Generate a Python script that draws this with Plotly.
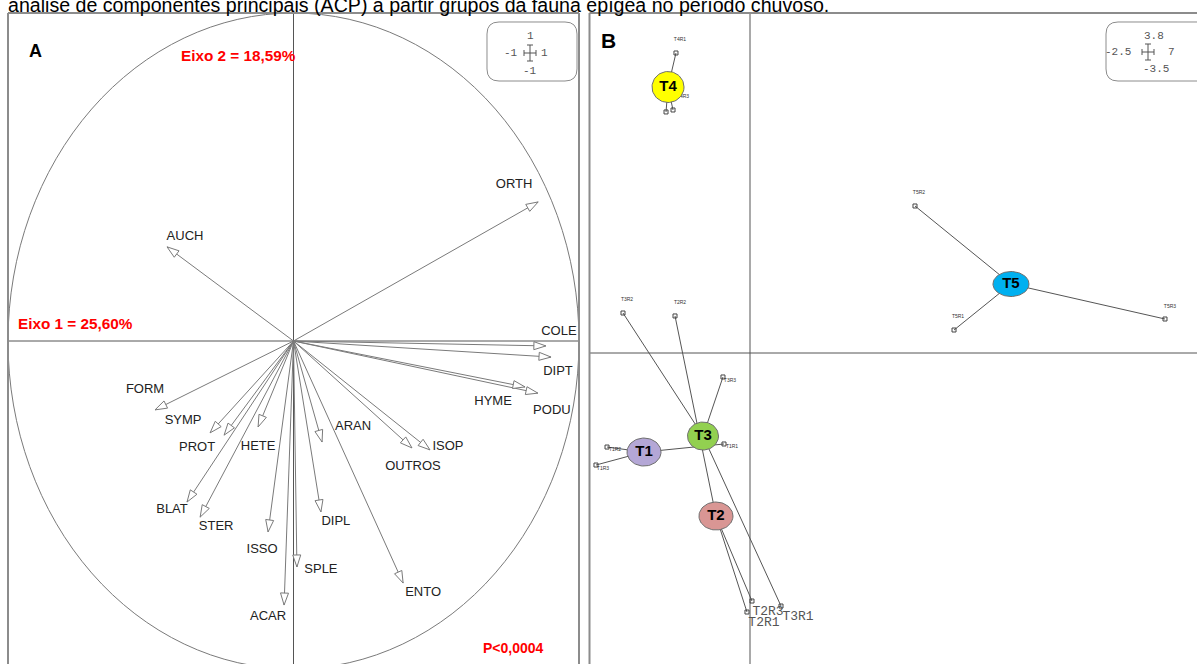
import numpy as np
import plotly.graph_objects as go

# ---------------- data ----------------
# Panel A: loadings of the epigeic fauna groups on axes 1 and 2
groups = ["ORTH", "AUCH", "COLE", "DIPT", "HYME", "PODU", "ISOP", "OUTROS", "ARAN", "DIPL",
          "ENTO", "SPLE", "ACAR", "ISSO", "HETE", "FORM", "SYMP", "PROT", "BLAT", "STER"]
load_ax1 = [0.857, -0.443, 0.884, 0.902, 0.811, 0.856, 0.478, 0.415, 0.100, 0.096,
            0.384, 0.012, -0.033, -0.089, -0.124, -0.485, -0.292, -0.243, -0.373, -0.327]
load_ax2 = [0.424, 0.287, -0.015, -0.049, -0.140, -0.159, -0.332, -0.326, -0.308, -0.521,
            -0.738, -0.689, -0.805, -0.582, -0.262, -0.210, -0.280, -0.287, -0.491, -0.537]

# Panel B: replicate scores and treatment centroids
replicates = ["T1R1", "T1R2", "T1R3", "T2R1", "T2R2", "T2R3", "T3R1", "T3R2", "T3R3",
              "T4R1", "T4R2", "T4R3", "T5R1", "T5R2", "T5R3"]
rep_ax1 = [-0.405, -2.227, -2.399, -0.047, -1.168, 0.031, 0.483, -1.978, -0.421,
           -1.153, -1.308, -1.199, 3.178, 2.570, 6.464]
rep_ax2 = [-1.017, -1.051, -1.252, -2.895, 0.414, -2.772, -2.828, 0.447, -0.268,
           3.353, 2.694, 2.716, 0.257, 1.643, 0.380]
treatments = ["T1", "T2", "T3", "T4", "T5"]
cent_ax1 = [-1.651, -0.530, -0.732, -1.277, 4.065]
cent_ax2 = [-1.107, -1.822, -0.928, 2.973, 0.771]

# axis-limit legends drawn in the corner boxes
limits_A = ["1", "-1", "1", "-1"]          # top, left, right, bottom
limits_B = ["3.8", "-2.5", "7", "-3.5"]

caption = "análise de componentes principais (ACP) a partir grupos da fauna epígea no período chuvoso."
eixo1_txt = "Eixo 1 = 25,60%"
eixo2_txt = "Eixo 2 = 18,59%"
pval_txt = "P<0,0004"

# ---------------- styling / layout ----------------
W, H = 1197, 664
FONT = "Arial, Liberation Sans, sans-serif"
MONO = "Liberation Mono, Courier New, monospace"

# panel frames in pixels
A_left, A_right, A_top = 8, 579, 13
B_left, B_top = 589.5, 13
A_xr = [-1, 1]
A_yr = [-(H - 341) / (341 - A_top), 1]
B_x0px, B_y0px = 750, 353
B_sx = (B_x0px - B_left) / 2.5
B_sy = (B_y0px - B_top) / 3.8
B_xr = [-2.5, (W - B_x0px) / B_sx]
B_yr = [-(H - B_y0px) / B_sy, 3.8]

A_sx = (A_right - A_left) / (A_xr[1] - A_xr[0])
A_sy = (H - A_top) / (A_yr[1] - A_yr[0])

treat_colors = {"T1": "#B4A7D6", "T2": "#D99694", "T3": "#92D050", "T4": "#FFFF00", "T5": "#00B0F0"}
treat_size = {"T1": (34, 28), "T2": (34, 28), "T3": (31, 28), "T4": (32, 31), "T5": (36, 25)}

# label offsets in pixels (dx right, dy down) from the arrow tip
arrow_label_off = {
    "ORTH": (-24, -17), "AUCH": (18, -10), "COLE": (13, -14), "DIPT": (7, 15),
    "HYME": (-32, 15), "PODU": (14, 18), "ISOP": (18, -3), "OUTROS": (1, 19),
    "ARAN": (31, -15), "DIPL": (15, 10), "ENTO": (20, 10), "SPLE": (24, 3),
    "ACAR": (-16, 12), "ISSO": (-6, 18), "HETE": (0, 20), "FORM": (-10, -20),
    "SYMP": (-27, -12), "PROT": (-27, 13), "BLAT": (-15, 8), "STER": (16, 10),
}
# replicate label offsets in pixels from the point
rep_label_off = {
    "T1R1": (8, 3), "T1R2": (8, 3), "T1R3": (7, 4), "T2R1": (17, 11), "T2R2": (5, -13),
    "T2R3": (16, 11), "T3R1": (17, 11), "T3R2": (4, -13), "T3R3": (7, 4),
    "T4R1": (4, -13), "T4R2": (4, -13), "T4R3": (10, -13),
    "T5R1": (4, -13), "T5R2": (4, -13), "T5R3": (5, -12),
}
big_rep_labels = {"T2R1", "T2R3", "T3R1"}


def px(x):
    return x / W


def py(y):
    return 1 - y / H


fig = go.Figure()

# ---------------- panel A ----------------
lx, ly = [], []
for a1, a2 in zip(load_ax1, load_ax2):
    lx += [0, a1, None]
    ly += [0, a2, None]
fig.add_trace(go.Scatter(x=lx, y=ly, mode="lines", line=dict(color="#7a7a7a", width=1),
                         xaxis="x", yaxis="y", hoverinfo="skip"))

# open triangular arrowheads, built in pixel space
hx, hy = [], []
L, HW = 12, 4
for a1, a2 in zip(load_ax1, load_ax2):
    tx, ty = a1 * A_sx, a2 * A_sy
    n = np.hypot(tx, ty)
    ux, uy = tx / n, ty / n
    bx, by = tx - L * ux, ty - L * uy
    pts = [(tx, ty), (bx - HW * uy, by + HW * ux), (bx + HW * uy, by - HW * ux), (tx, ty)]
    for p in pts:
        hx.append(p[0] / A_sx)
        hy.append(p[1] / A_sy)
    hx.append(None)
    hy.append(None)
fig.add_trace(go.Scatter(x=hx, y=hy, mode="lines", fill="toself", fillcolor="white",
                         line=dict(color="#7a7a7a", width=1), xaxis="x", yaxis="y",
                         hoverinfo="skip"))

tx_lab = [a1 + arrow_label_off[g][0] / A_sx for g, a1 in zip(groups, load_ax1)]
ty_lab = [a2 - arrow_label_off[g][1] / A_sy for g, a2 in zip(groups, load_ax2)]
fig.add_trace(go.Scatter(x=tx_lab, y=ty_lab, mode="text", text=groups,
                         textfont=dict(family=FONT, size=13, color="#222222"),
                         textposition="middle center", xaxis="x", yaxis="y", hoverinfo="skip"))

# ---------------- panel B ----------------
cent = {t: (cx, cy) for t, cx, cy in zip(treatments, cent_ax1, cent_ax2)}
sx_, sy_ = [], []
for r, x, y in zip(replicates, rep_ax1, rep_ax2):
    cx, cy = cent[r[:2]]
    sx_ += [cx, x, None]
    sy_ += [cy, y, None]
fig.add_trace(go.Scatter(x=sx_, y=sy_, mode="lines", line=dict(color="#555555", width=1),
                         xaxis="x2", yaxis="y2", hoverinfo="skip"))
fig.add_trace(go.Scatter(x=rep_ax1, y=rep_ax2, mode="markers",
                         marker=dict(symbol="square-open", size=4, color="#444444",
                                     line=dict(width=1)),
                         xaxis="x2", yaxis="y2", hoverinfo="skip"))

small = [(r, x, y) for r, x, y in zip(replicates, rep_ax1, rep_ax2) if r not in big_rep_labels]
big = [(r, x, y) for r, x, y in zip(replicates, rep_ax1, rep_ax2) if r in big_rep_labels]
for subset, fnt, size, col in [(small, FONT, 5, "#333333"), (big, MONO, 13, "#555555")]:
    fig.add_trace(go.Scatter(
        x=[x + rep_label_off[r][0] / B_sx for r, x, y in subset],
        y=[y - rep_label_off[r][1] / B_sy for r, x, y in subset],
        text=[r for r, x, y in subset], mode="text",
        textfont=dict(family=fnt, size=size, color=col), textposition="middle center",
        xaxis="x2", yaxis="y2", hoverinfo="skip"))

# centroid ellipses with their treatment labels
theta = np.linspace(0, 2 * np.pi, 73)
for t in treatments:
    cx, cy = cent[t]
    w, h = treat_size[t]
    ex = cx + (w / 2) * np.cos(theta) / B_sx
    ey = cy + (h / 2) * np.sin(theta) / B_sy
    fig.add_trace(go.Scatter(x=ex, y=ey, mode="lines", fill="toself",
                             fillcolor=treat_colors[t], line=dict(color="#6e6e6e", width=1),
                             xaxis="x2", yaxis="y2", hoverinfo="skip"))
fig.add_trace(go.Scatter(x=cent_ax1, y=cent_ax2, text=treatments, mode="text",
                         textfont=dict(family=FONT, size=15, color="black", weight="bold"),
                         textposition="middle center", xaxis="x2", yaxis="y2", hoverinfo="skip"))

# ---------------- shapes ----------------
shapes = []
# correlation circle and axes of panel A
shapes.append(dict(type="circle", xref="x", yref="y", x0=-1, x1=1, y0=-1, y1=1,
                   line=dict(color="#7a7a7a", width=1), layer="below"))
shapes.append(dict(type="line", xref="x", yref="y", x0=A_xr[0], x1=A_xr[1], y0=0, y1=0,
                   line=dict(color="#555555", width=1), layer="below"))
shapes.append(dict(type="line", xref="x", yref="y", x0=0, x1=0, y0=A_yr[0], y1=A_yr[1],
                   line=dict(color="#555555", width=1), layer="below"))
# axes of panel B
shapes.append(dict(type="line", xref="x2", yref="y2", x0=B_xr[0], x1=B_xr[1], y0=0, y1=0,
                   line=dict(color="#555555", width=1), layer="below"))
shapes.append(dict(type="line", xref="x2", yref="y2", x0=0, x1=0, y0=B_yr[0], y1=B_yr[1],
                   line=dict(color="#555555", width=1), layer="below"))

frame = dict(color="#8c8c8c", width=2)
for (x0, y0, x1, y1) in [(A_left, A_top, A_left, H), (A_left, A_top, A_right, A_top),
                         (A_right, A_top, A_right, H), (B_left, B_top, B_left, H),
                         (B_left, B_top, W, B_top)]:
    shapes.append(dict(type="line", xref="paper", yref="paper",
                       x0=px(x0), y0=py(y0), x1=px(x1), y1=py(y1), line=frame))


def rounded_box(x0, y0, x1, y1, r):
    P = lambda a, b: f"{px(a):.5f},{py(b):.5f}"
    return (f"M {P(x0 + r, y0)} L {P(x1 - r, y0)} Q {P(x1, y0)} {P(x1, y0 + r)} "
            f"L {P(x1, y1 - r)} Q {P(x1, y1)} {P(x1 - r, y1)} L {P(x0 + r, y1)} "
            f"Q {P(x0, y1)} {P(x0, y1 - r)} L {P(x0, y0 + r)} Q {P(x0, y0)} {P(x0 + r, y0)} Z")


def cross(cxp, cyp, hw, hh, cap):
    segs = [(cxp - hw, cyp, cxp + hw, cyp), (cxp, cyp - hh, cxp, cyp + hh),
            (cxp - hw, cyp - cap, cxp - hw, cyp + cap), (cxp + hw, cyp - cap, cxp + hw, cyp + cap),
            (cxp - cap, cyp - hh, cxp + cap, cyp - hh), (cxp - cap, cyp + hh, cxp + cap, cyp + hh)]
    return [dict(type="line", xref="paper", yref="paper", x0=px(a), y0=py(b), x1=px(c), y1=py(d),
                 line=dict(color="#555555", width=1)) for a, b, c, d in segs]


for box in [(487, 22, 577, 81), (1106, 22, 1215, 81)]:
    shapes.append(dict(type="path", xref="paper", yref="paper", path=rounded_box(*box, 12),
                       line=dict(color="#8c8c8c", width=1), fillcolor="white"))
shapes += cross(530, 53, 6, 8, 3)
shapes += cross(1148, 52, 6, 8, 3)

# ---------------- annotations ----------------
ann = []


def text(x, y, s, size, color="black", family=FONT, bold=False, xanchor="center", yanchor="middle"):
    ann.append(dict(x=px(x), y=py(y), xref="paper", yref="paper", text=s, showarrow=False,
                    xanchor=xanchor, yanchor=yanchor,
                    font=dict(family=family, size=size, color=color,
                              weight="bold" if bold else "normal")))


text(6, 18, caption, 19.6, xanchor="left", yanchor="bottom")
text(35, 51, "A", 18, bold=True)
text(608, 41, "B", 21, bold=True)
text(238, 55, eixo2_txt, 15.3, color="red", bold=True)
text(75, 323, eixo1_txt, 15.3, color="red", bold=True)
text(513, 648, pval_txt, 14, color="red", bold=True)

for (x, y), s in zip([(530, 36), (511, 53), (544, 53), (530, 71)], limits_A):
    text(x, y, s, 11, color="#555555", family=MONO)
for (x, y), s in zip([(1154, 36), (1118, 52), (1171, 52), (1156, 69)], limits_B):
    text(x, y, s, 11, color="#555555", family=MONO)

hidden = dict(visible=False, showgrid=False, zeroline=False, fixedrange=True)
fig.update_layout(
    width=W, height=H, margin=dict(l=0, r=0, t=0, b=0),
    paper_bgcolor="white", plot_bgcolor="white", showlegend=False,
    xaxis=dict(domain=[px(A_left), px(A_right)], range=A_xr, **hidden),
    yaxis=dict(domain=[0, py(A_top)], range=A_yr, **hidden),
    xaxis2=dict(domain=[px(B_left), 1], range=B_xr, **hidden),
    yaxis2=dict(domain=[0, py(B_top)], range=B_yr, **hidden),
    shapes=shapes, annotations=ann,
)

fig.write_html("out.html")
